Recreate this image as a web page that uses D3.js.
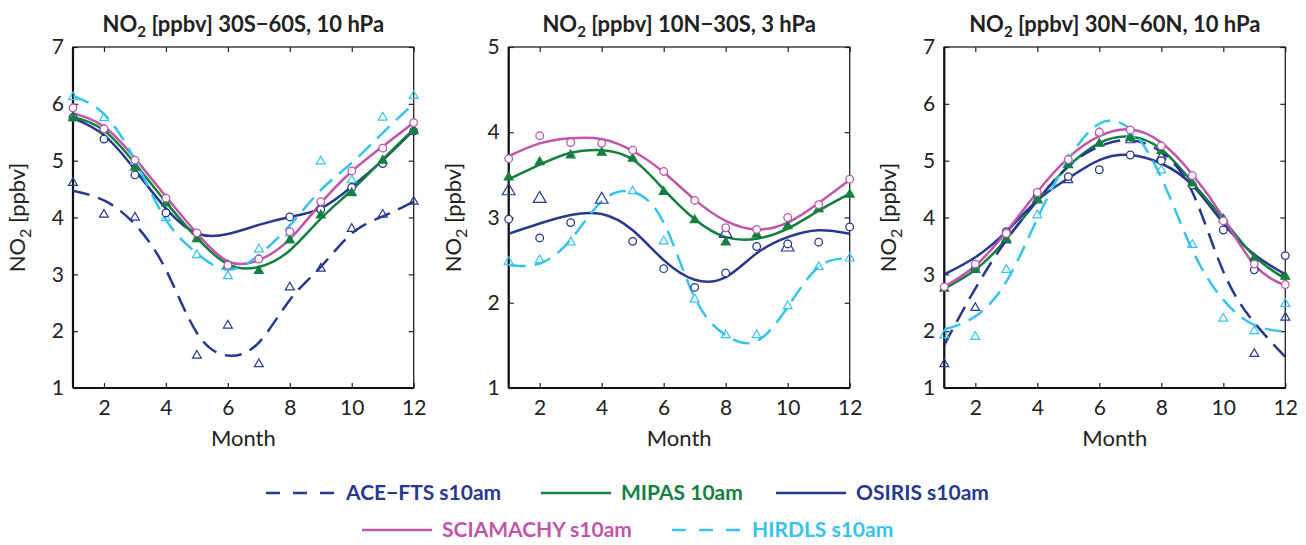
<!DOCTYPE html>
<html><head><meta charset="utf-8">
<script src="https://cdn.jsdelivr.net/npm/d3@7"></script>
<style>
body{margin:0;background:#fff;}
svg text{font-family:Lato,"Open Sans",sans-serif;}
</style></head><body>
<svg id="c" width="1306" height="545"></svg>
<script>
const months = [1,2,3,4,5,6,7,8,9,10,11,12];
const xTicks = [2,4,6,8,10,12];
const yTicks1 = [1,2,3,4,5,6,7];
const yTicks2 = [1,2,3,4,5];
const titles = ["30S\u221260S, 10 hPa","10N\u221230S, 3 hPa","30N\u221260N, 10 hPa"];
const seriesNames = ["ACE\u2212FTS s10am","MIPAS 10am","OSIRIS s10am","SCIAMACHY s10am","HIRDLS s10am"];

// Panel 1: 30S-60S, 10 hPa  (points = monthly means, fit = fitted curve at each month)
const p1_ace_pts  = [4.61,4.05,4.00,null,1.57,2.10,1.42,2.77,3.10,3.80,4.05,4.28];
const p1_ace_fit  = [4.47,4.30,3.88,3.08,1.97,1.57,1.80,2.55,3.13,3.72,4.02,4.28];
const p1_mip_pts  = [5.75,5.54,4.88,4.25,3.62,3.16,3.06,3.60,4.04,4.43,5.00,5.52];
const p1_mip_fit  = [5.77,5.53,4.95,4.27,3.64,3.18,3.13,3.42,3.98,4.48,5.02,5.55];
const p1_osi_pts  = [5.76,5.38,4.75,4.08,null,null,null,4.01,4.14,4.53,4.95,5.52];
const p1_osi_fit  = [5.75,5.45,4.84,4.16,3.72,3.71,3.87,4.01,4.16,4.54,5.01,5.54];
const p1_sci_pts  = [5.93,5.56,5.01,4.34,3.73,3.16,3.27,3.75,4.28,4.82,5.22,5.67];
const p1_sci_fit  = [5.83,5.60,5.04,4.37,3.72,3.23,3.25,3.62,4.25,4.81,5.25,5.67];
const p1_hir_pts  = [6.12,5.75,4.98,3.99,3.34,2.97,3.44,3.72,4.99,4.66,5.76,6.14];
const p1_hir_fit  = [6.14,5.82,5.01,3.96,3.37,3.08,3.34,3.86,4.48,4.96,5.49,6.00];

// Panel 2: 10N-30S, 3 hPa
const p2_ace_pts  = [3.31,3.22,null,3.21,null,null,null,2.81,null,2.65,null,null];
const p2_mip_pts  = [3.47,3.65,3.73,3.76,3.69,3.30,2.97,2.71,2.80,2.90,3.10,3.27];
const p2_mip_fit  = [3.45,3.62,3.76,3.79,3.68,3.33,2.98,2.77,2.75,2.87,3.08,3.28];
const p2_osi_pts  = [2.98,2.76,2.94,null,2.72,2.40,2.18,2.35,2.66,2.69,2.71,2.89];
const p2_osi_fit  = [2.81,2.93,3.03,3.04,2.85,2.50,2.27,2.30,2.58,2.77,2.85,2.81];
const p2_sci_pts  = [3.69,3.96,3.88,3.87,3.79,3.54,3.20,2.88,2.86,3.00,3.15,3.45];
const p2_sci_fit  = [3.72,3.87,3.93,3.92,3.78,3.53,3.21,2.96,2.86,2.94,3.17,3.44];
const p2_hir_pts  = [2.48,2.50,2.71,null,3.31,2.72,2.04,1.62,1.62,1.96,2.42,2.52];
const p2_hir_fit  = [2.44,2.46,2.74,3.19,3.30,2.94,2.06,1.62,1.55,1.95,2.42,2.52];

// Panel 3: 30N-60N, 10 hPa
const p3_ace_pts  = [1.42,2.41,3.60,4.30,4.66,null,5.36,5.07,null,null,1.60,2.24];
const p3_ace_fit  = [1.76,2.75,3.60,4.30,4.90,5.25,5.36,5.15,4.45,3.05,2.15,1.55];
const p3_mip_pts  = [2.75,3.08,3.62,4.32,4.92,5.30,5.40,5.17,4.60,3.97,3.28,2.96];
const p3_mip_fit  = [2.75,3.08,3.62,4.30,4.90,5.31,5.42,5.20,4.62,3.97,3.32,2.92];
const p3_osi_pts  = [null,3.10,3.75,4.40,4.72,4.84,5.10,5.00,4.57,3.78,3.08,3.33];
const p3_osi_fit  = [3.00,3.30,3.75,4.30,4.69,5.01,5.10,4.95,4.57,3.90,3.35,3.00];
const p3_sci_pts  = [2.78,3.18,3.72,4.44,5.02,5.50,5.54,5.26,4.74,3.94,3.18,2.82];
const p3_sci_fit  = [2.78,3.15,3.75,4.45,5.05,5.43,5.55,5.32,4.76,4.00,3.17,2.80];
const p3_hir_pts  = [1.93,1.90,3.08,4.04,5.02,5.50,5.45,4.83,3.52,2.22,2.00,2.48];
const p3_hir_fit  = [2.03,2.26,2.87,3.98,5.02,5.65,5.55,4.70,3.43,2.55,2.11,1.99];

const colors = {ace:"#27398f", mip:"#12803f", osi:"#27398f", sci:"#c055aa", hir:"#36c3ef"};

const panels = [
  {x0:73,   x1:413.7,  yMax:7, yTicks:yTicks1, d:{ace:[p1_ace_pts,p1_ace_fit],mip:[p1_mip_pts,p1_mip_fit],osi:[p1_osi_pts,p1_osi_fit],sci:[p1_sci_pts,p1_sci_fit],hir:[p1_hir_pts,p1_hir_fit]}, aceBig:false},
  {x0:508.7,x1:849.7,  yMax:5, yTicks:yTicks2, d:{ace:[p2_ace_pts,null],mip:[p2_mip_pts,p2_mip_fit],osi:[p2_osi_pts,p2_osi_fit],sci:[p2_sci_pts,p2_sci_fit],hir:[p2_hir_pts,p2_hir_fit]}, aceBig:true},
  {x0:944.3,x1:1285.3, yMax:7, yTicks:yTicks1, d:{ace:[p3_ace_pts,p3_ace_fit],mip:[p3_mip_pts,p3_mip_fit],osi:[p3_osi_pts,p3_osi_fit],sci:[p3_sci_pts,p3_sci_fit],hir:[p3_hir_pts,p3_hir_fit]}, aceBig:false}
];
const plotTop = 47, plotBottom = 388;
const svg = d3.select("#c");

const styles = {
  ace:{dash:"17,9", marker:"tri", fill:"none"},
  mip:{dash:null, marker:"tri", fill:colors.mip},
  osi:{dash:null, marker:"circ", fill:"none"},
  sci:{dash:null, marker:"circ", fill:"none"},
  hir:{dash:"17,9", marker:"tri", fill:"none"}
};
const lineOrder = ["osi","mip","sci","ace","hir"];
const markOrder = ["ace","hir","osi","mip","sci"];

panels.forEach((p,i)=>{
  const x = d3.scaleLinear().domain([1,12]).range([p.x0,p.x1]);
  const y = d3.scaleLinear().domain([1,p.yMax]).range([plotBottom,plotTop]);
  const g = svg.append("g");
  const cid = "clip"+i;
  svg.append("clipPath").attr("id",cid).append("rect")
     .attr("x",p.x0).attr("y",plotTop).attr("width",p.x1-p.x0).attr("height",plotBottom-plotTop);

  const ax = [
    d3.axisBottom(x).tickValues(xTicks).tickSizeInner(-5).tickSizeOuter(0).tickPadding(12),
    d3.axisTop(x).tickValues(xTicks).tickSizeInner(-5).tickSizeOuter(0).tickFormat(""),
    d3.axisLeft(y).tickValues(p.yTicks).tickFormat(d3.format("d")).tickSizeInner(-5).tickSizeOuter(0).tickPadding(9),
    d3.axisRight(y).tickValues(p.yTicks).tickSizeInner(-5).tickSizeOuter(0).tickFormat("")
  ];
  const pos = [[0,plotBottom],[0,plotTop],[p.x0,0],[p.x1,0]];
  ax.forEach((a,k)=>{
    const ag = g.append("g").attr("transform",`translate(${pos[k][0]},${pos[k][1]})`).call(a);
    ag.select(".domain").remove();
    ag.selectAll(".tick line").attr("stroke","#222").attr("stroke-width",1.2);
    ag.selectAll(".tick text").attr("font-size",21).attr("fill","#222").style("font-family","Lato,sans-serif");
  });
  g.append("rect").attr("x",p.x0).attr("y",plotTop).attr("width",p.x1-p.x0).attr("height",plotBottom-plotTop)
    .attr("fill","none").attr("stroke","#222").attr("stroke-width",1.3);
  g.append("line").attr("x1",p.x0).attr("x2",p.x0).attr("y1",plotTop).attr("y2",plotBottom).attr("stroke","#111").attr("stroke-width",2.2);
  g.append("line").attr("x1",p.x0).attr("x2",p.x1).attr("y1",plotBottom).attr("y2",plotBottom).attr("stroke","#111").attr("stroke-width",2.2);

  const t = g.append("text").attr("x",(p.x0+p.x1)/2).attr("y",32).attr("text-anchor","middle")
    .attr("font-size",22).attr("font-weight","bold").attr("fill","#222");
  t.append("tspan").text("NO");
  t.append("tspan").attr("font-size",15).attr("dy",5).text("2");
  t.append("tspan").attr("dy",-5).text(" [ppbv] "+titles[i]);

  g.append("text").attr("x",(p.x0+p.x1)/2).attr("y",446).attr("text-anchor","middle")
    .attr("font-size",22).attr("fill","#222").text("Month");
  const yl = g.append("text").attr("transform",`translate(${p.x0-48},${(plotTop+plotBottom)/2}) rotate(-90)`)
    .attr("text-anchor","middle").attr("font-size",22).attr("fill","#222");
  yl.append("tspan").text("NO");
  yl.append("tspan").attr("font-size",16).attr("dy",6).text("2");
  yl.append("tspan").attr("dy",-6).text(" [ppbv]");

  const lg = g.append("g").attr("clip-path",`url(#${cid})`);
  const line = d3.line().defined(d=>d[1]!=null).x(d=>x(d[0])).y(d=>y(d[1])).curve(d3.curveNatural);
  lineOrder.forEach(k=>{
    const fit = p.d[k][1];
    if(!fit) return;
    lg.append("path").datum(months.map((m,j)=>[m,fit[j]]))
      .attr("d",line).attr("fill","none").attr("stroke",colors[k]).attr("stroke-width",2.5)
      .attr("stroke-dasharray",styles[k].dash);
  });
  markOrder.forEach(k=>{
    const pts = p.d[k][0];
    const data = months.map((m,j)=>[m,pts[j]]).filter(d=>d[1]!=null);
    const st = styles[k];
    if(st.marker==="circ"){
      g.selectAll(null).data(data).enter().append("circle")
        .attr("cx",d=>x(d[0])).attr("cy",d=>y(d[1])).attr("r",3.8)
        .attr("fill","#fff").attr("stroke",colors[k]).attr("stroke-width",1.3);
    } else {
      const big = (k==="ace" && p.aceBig);
      const sym = d3.symbol().type(d3.symbolTriangle).size(big?70:34);
      g.selectAll(null).data(data).enter().append("path")
        .attr("d",sym).attr("transform",d=>`translate(${x(d[0])},${y(d[1])})`)
        .attr("fill",st.fill==="none"?"none":st.fill).attr("stroke",colors[k]).attr("stroke-width",1.2);
    }
  });
});

const legendPos = [[266,493],[541,493],[776,493],[362,530],[672,530]];
const legendKeys = ["ace","mip","osi","sci","hir"];
legendKeys.forEach((k,i)=>{
  const [lx,ly] = legendPos[i];
  const lgI = svg.append("g");
  lgI.append("line").attr("x1",lx).attr("x2",lx+70).attr("y1",ly).attr("y2",ly)
    .attr("stroke",colors[k]).attr("stroke-width",2.5)
    .attr("stroke-dasharray",styles[k].dash?"14,13":null);
  lgI.append("text").attr("x",lx+80).attr("y",ly+7).attr("font-size",21).attr("font-weight","bold")
    .attr("fill",colors[k]).text(seriesNames[i]);
});
</script>
</body></html>
